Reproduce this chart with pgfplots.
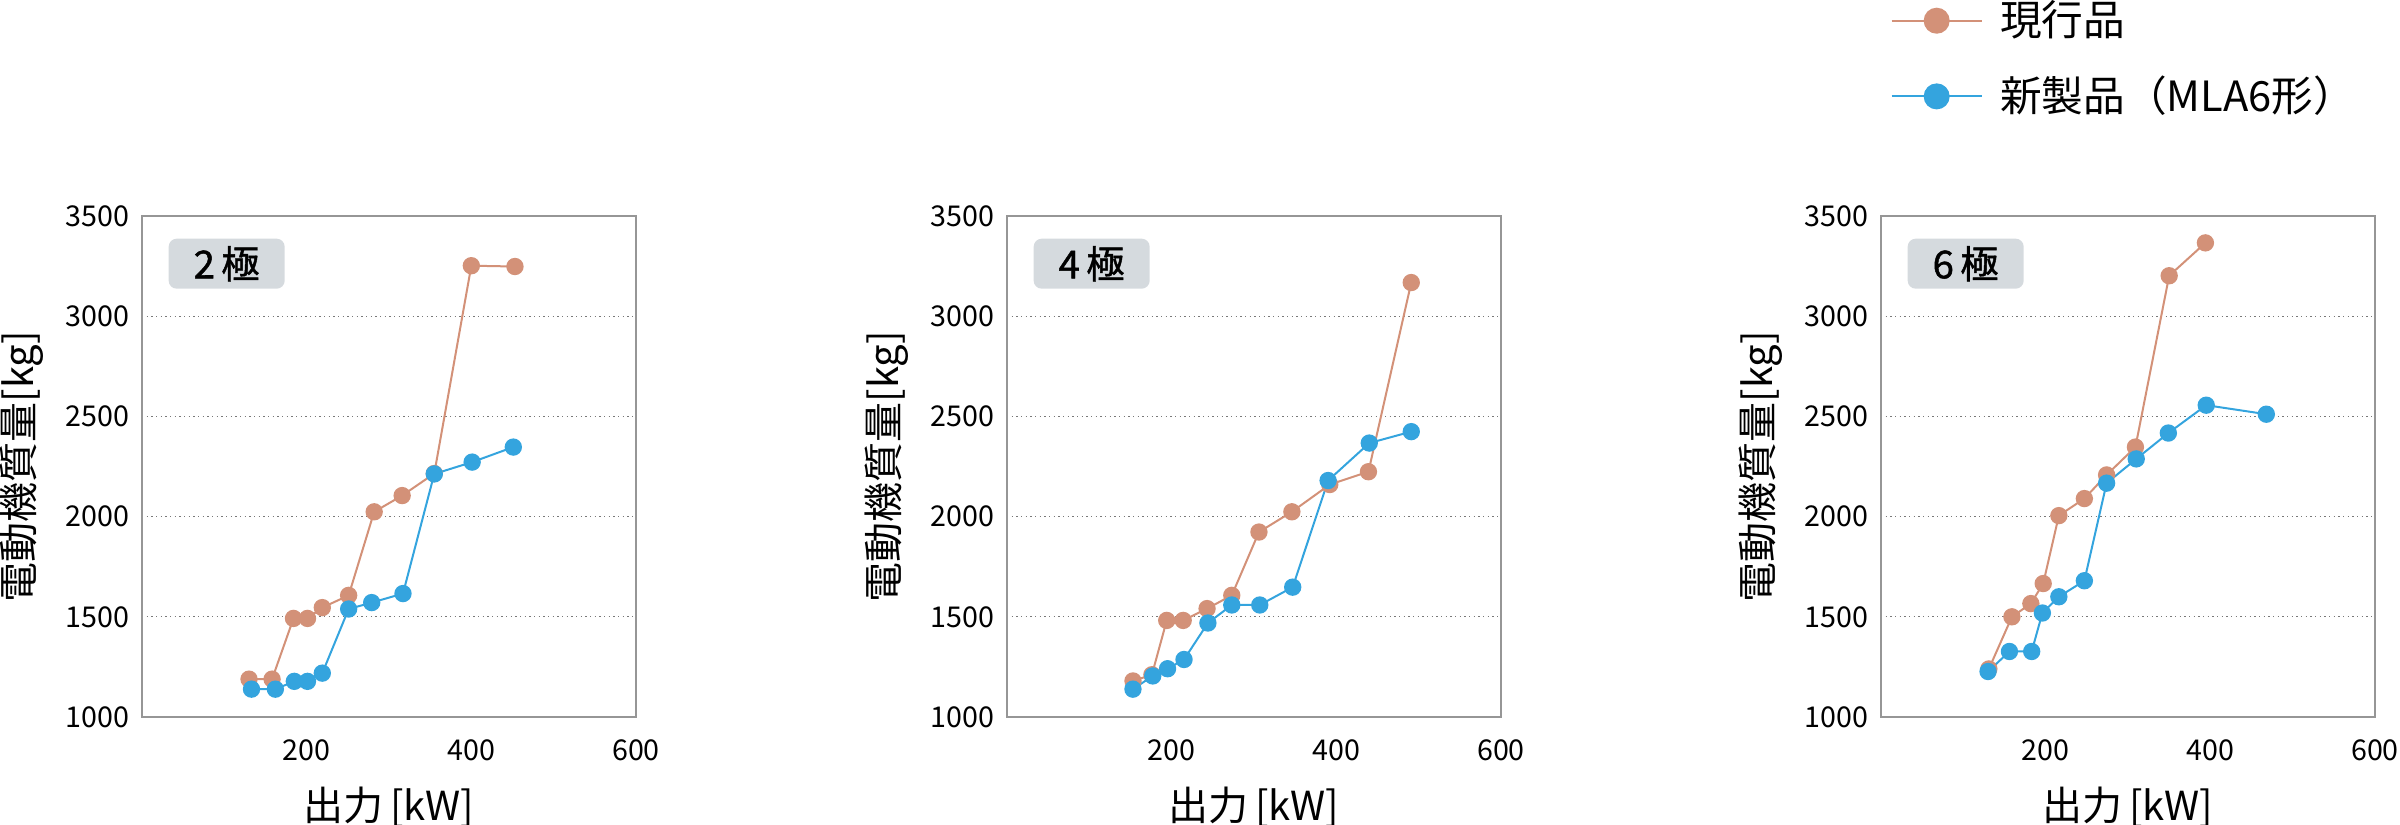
\documentclass[border=0pt]{standalone}
\usepackage{fontspec}
\setmainfont{Noto Sans CJK JP}
\newfontfamily\tagfont{Noto Sans CJK JP}[FakeBold=1.2]
\usepackage{pgfplots}
\pgfplotsset{compat=1.18}
\definecolor{cOld}{RGB}{211,145,120}
\definecolor{cNew}{RGB}{52,164,222}
\definecolor{cBox}{RGB}{213,218,222}
\definecolor{cAxis}{RGB}{150,150,150}
\definecolor{cGrid}{RGB}{120,120,120}

\tikzset{
 tag/.style={fill=cBox, rounded corners=2.4pt, minimum width=34.8pt, minimum height=15pt, inner sep=0pt, anchor=north west, font=\tagfont\fontsize{11.5}{12}\selectfont, xshift=7.8pt, yshift=-6.6pt},
}
\pgfplotsset{
 panel/.style={
  scale only axis, width=148.2pt, height=150.3pt,
  xmin=0, xmax=600, ymin=1000, ymax=3500,
  xtick={200,400,600}, ytick={1000,1500,...,3500},
  major tick length=0pt,
  axis line style={cAxis, line width=0.5pt},
  ymajorgrids, grid style={densely dotted, cGrid, line width=0.4pt},
  /pgf/number format/assume math mode=true,
  /pgf/number format/1000 sep={},
  tick label style={font=\fontsize{8.6}{10}\selectfont, inner sep=0pt},
  yticklabel style={anchor=east, xshift=-3.6pt},
  xticklabel style={anchor=center, yshift=-10pt},
  label style={font=\fontsize{12}{14}\selectfont, inner sep=0pt},
  ylabel={電動機質量[kg]},
  xlabel={出力\,[kW]},
  ylabel style={at={([xshift=-36pt]axis description cs:0,0.5)}, anchor=center},
  xlabel style={at={([yshift=-27pt]axis description cs:0.5,0)}, anchor=center},
  anchor=north west,
 },
 old/.style={color=cOld, line width=0.6pt, mark=*, mark size=2.3pt, mark options={solid, fill=cOld, draw=none}},
 new/.style={color=cNew, line width=0.6pt, mark=*, mark size=2.3pt, mark options={solid, fill=cNew, draw=none}},
}

\begin{document}
\begin{tikzpicture}
\path[use as bounding box] (0,0) rectangle (720pt,-247.2pt);

% Panel 1: 2 poles
\begin{axis}[panel, at={(42.6pt,-64.8pt)}]
\addplot[old] coordinates {(130,1189) (158,1189) (184,1492) (201,1492) (219,1546) (251,1607) (282,2024) (316,2105) (355,2215) (400,3252) (453,3248)};
\addplot[new] coordinates {(133,1139) (162,1139) (185,1178) (201,1178) (219,1219) (251,1539) (279,1571) (317,1616) (355,2213) (401,2272) (451,2347)};
\node[tag] at (rel axis cs:0,1) {2\,極};
\end{axis}

% Panel 2: 4 poles
\begin{axis}[panel, at={(302.1pt,-64.8pt)}]
\addplot[old] coordinates {(153,1180) (176,1211) (194,1482) (214,1482) (243,1541) (273,1607) (306,1923) (346,2024) (392,2160) (439,2224) (491,3168)};
\addplot[new] coordinates {(153,1139) (177,1205) (195,1241) (215,1287) (244,1469) (273,1559) (307,1559) (347,1648) (390,2180) (440,2367) (491,2424)};
\node[tag] at (rel axis cs:0,1) {4\,極};
\end{axis}

% Panel 3: 6 poles
\begin{axis}[panel, at={(564.3pt,-64.8pt)},
  legend style={at={(axis description cs:0,1)}, anchor=north west, xshift=2.7pt, yshift=64.8pt,
    draw=none, fill=none, inner sep=0pt, row sep=10.6pt,
    font=\fontsize{12.5}{13}\selectfont, nodes={inner sep=0pt},
    /tikz/every odd column/.append style={column sep=5.2pt}},
  legend cell align=left,
  legend image code/.code={\draw[mark repeat=2, mark phase=2, #1, mark size=3.6pt] plot coordinates {(0pt,0pt) (13.5pt,0pt) (27pt,0pt)};}]
\addplot[old] coordinates {(131,1240) (159,1500) (182,1566) (197,1666) (216,2005) (247,2090) (274,2208) (309,2347) (350,3202) (394,3366)};
\addlegendentry{現行品}
\addplot[new] coordinates {(130,1227) (156,1327) (183,1327) (196,1519) (216,1600) (247,1680) (274,2167) (310,2288) (349,2417) (395,2556) (468,2511)};
\addlegendentry{新製品（MLA6形）}
\node[tag] at (rel axis cs:0,1) {6\,極};
\end{axis}
\end{tikzpicture}
\end{document}
